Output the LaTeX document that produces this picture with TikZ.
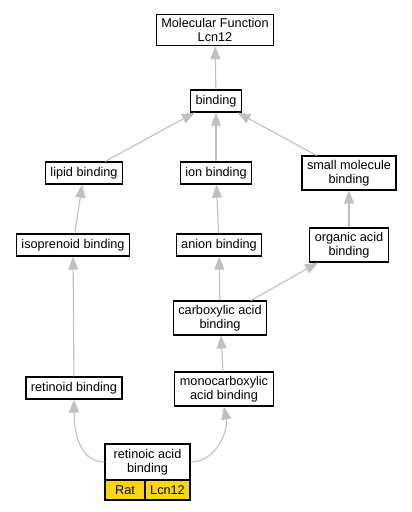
\documentclass[tikz,border=0pt]{standalone}
\usepackage{fontspec}
\setmainfont{Liberation Sans}
\usetikzlibrary{arrows.meta}
\definecolor{edgegray}{RGB}{192,192,192}
\definecolor{speciesyellow}{RGB}{255,215,0}

\begin{document}
\begin{tikzpicture}[
    x=1pt, y=1pt,
    every node/.style={font=\fontsize{12.7}{14}\selectfont},
    term/.style={draw, line width=1.2pt, rectangle, align=center,
        inner xsep=5pt, inner ysep=4pt, minimum height=22pt},
    species/.style={draw, line width=1.2pt, rectangle, fill=speciesyellow,
        inner sep=0pt, minimum height=20pt},
    isa/.style={draw=edgegray, line width=1.1pt,
        -{Triangle[length=13pt,width=10pt,fill=edgegray]}}
]
\useasboundingbox (0,0) rectangle (412,512);

\node[term] (mf) at (215,482) {Molecular Function\\Lcn12};
\node[term] (binding) at (216,411) {binding};
\node[term] (lipid) at (84,339) {lipid binding};
\node[term] (ion) at (216,339) {ion binding};
\node[term] (small) at (349,339) {small molecule\\binding};
\node[term] (isoprenoid) at (73,267) {isoprenoid binding};
\node[term] (anion) at (219,267) {anion binding};
\node[term] (organic) at (349,267) {organic acid\\binding};
\node[term] (carboxylic) at (220,194) {carboxylic acid\\binding};
\node[term] (retinoid) at (74,124) {retinoid binding};
\node[term] (mono) at (224,123) {monocarboxylic\\acid binding};
\node[term, minimum width=85pt, minimum height=36pt] (retinoic) at (147.5,50) {retinoic acid\\binding};
\node[species, minimum width=40pt] (rat) at (125,22) {Rat};
\node[species, minimum width=45pt] (gene) at (167.5,22) {Lcn12};

\draw[isa] (binding) -- (mf);
\draw[isa] (lipid) -- (binding);
\draw[isa] (ion) -- (binding);
\draw[isa] (small) -- (binding);
\draw[isa] (isoprenoid) -- (lipid);
\draw[isa] (anion) -- (ion);
\draw[isa] (organic) -- (small);
\draw[isa] (carboxylic) -- (anion);
\draw[isa] (carboxylic) -- (organic);
\draw[isa] (retinoid) -- (isoprenoid);
\draw[isa] (mono) -- (carboxylic);
\draw[isa] (retinoic.west) to[out=180, in=-90] (retinoid.south);
\draw[isa] (retinoic.east) to[out=0, in=-80] (mono.south);

\end{tikzpicture}
\end{document}
